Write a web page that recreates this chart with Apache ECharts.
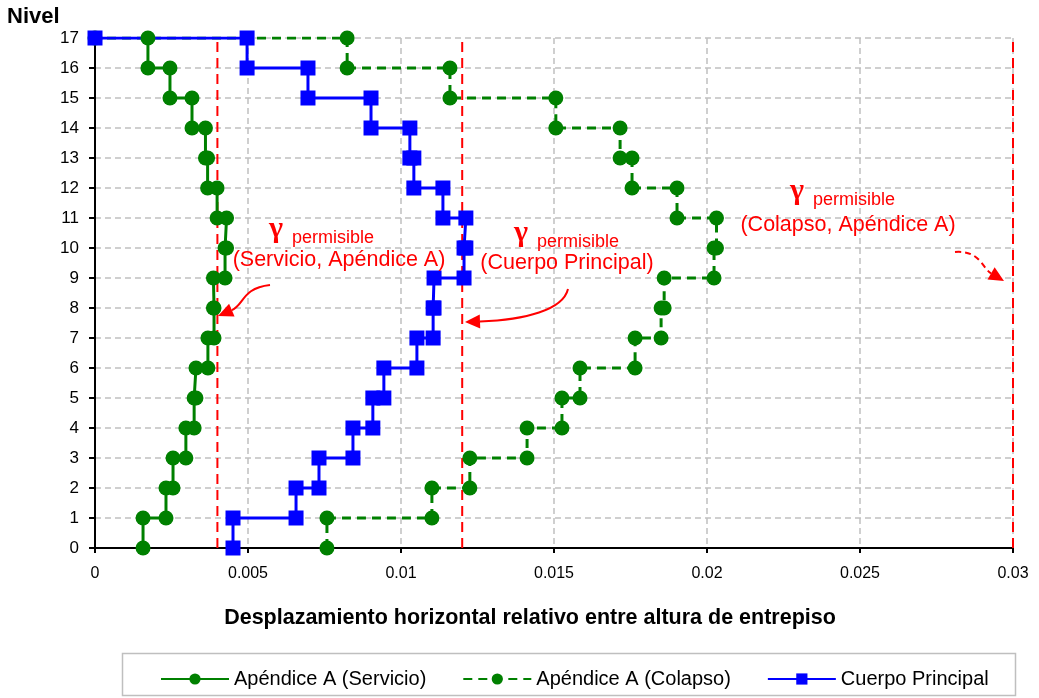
<!DOCTYPE html>
<html>
<head>
<meta charset="utf-8">
<script src="https://cdn.jsdelivr.net/npm/echarts@6/dist/echarts.min.js"></script>
<style>
html,body{margin:0;padding:0;background:#fff;}
#chart{width:1039px;height:698px;}
</style>
</head>
<body>
<div id="chart"></div>
<script>
// ---- Data (story drift between level k-1 and level k, k = 1..17) ----
const levels = [0,1,2,3,4,5,6,7,8,9,10,11,12,13,14,15,16,17];
const xTicks = [0, 0.005, 0.01, 0.015, 0.02, 0.025, 0.03];
const servicioDrift = [0.00157,0.00232,0.00255,0.00297,0.00324,0.00330,0.00369,0.00389,0.00387,0.00425,0.00430,0.00399,0.00368,0.00361,0.00317,0.00245,0.00173];
const colapsoDrift  = [0.00758,0.01101,0.01225,0.01412,0.01526,0.01585,0.01765,0.01850,0.01860,0.02023,0.02031,0.01902,0.01755,0.01716,0.01506,0.01160,0.00824];
const cuerpoDrift   = [0.00451,0.00657,0.00732,0.00843,0.00908,0.00944,0.01052,0.01105,0.01108,0.01206,0.01212,0.01137,0.01042,0.01029,0.00902,0.00696,0.00497];
const roofDrift = 0;                       // roof point of the profiles
const limitValues = [0.004, 0.012, 0.03];  // γ permisible lines
const seriesNames = ['Apéndice A (Servicio)', 'Apéndice A (Colapso)', 'Cuerpo Principal'];

function stepPoints(drifts, withRoof) {
  const pts = [];
  drifts.forEach((d, i) => { pts.push([d, levels[i]]); pts.push([d, levels[i + 1]]); });
  if (withRoof) pts.push([roofDrift, levels[levels.length - 1]]);
  return pts;
}

const GREEN = '#008000', BLUE = '#0000FF', RED = '#FF0000';
const chart = echarts.init(document.getElementById('chart'), null, {renderer: 'canvas'});
const font = 'Liberation Sans, Arial';

function fmt(v) { return String(+v.toFixed(4)); }

const limitSeries = limitValues.map((v, i) => ({
  name: 'limit' + i, type: 'line', z: 1, silent: true,
  data: [[v, levels[0]], [v, levels[levels.length - 1]]],
  symbol: 'none',
  lineStyle: {color: RED, width: 2, type: [10, 6]}
}));

const option = {
  animation: false,
  backgroundColor: '#fff',
  grid: {left: 95, right: 26, top: 38, bottom: 150, containLabel: false},
  xAxis: {
    type: 'value', min: xTicks[0], max: xTicks[xTicks.length - 1], interval: 0.005,
    axisLine: {show: true, onZero: false, lineStyle: {color: '#000', width: 2}},
    axisTick: {show: true, inside: false, length: 5, lineStyle: {color: '#000', width: 2}},
    axisLabel: {color: '#000', fontSize: 16, fontFamily: font, margin: 18, formatter: fmt},
    splitLine: {show: true, lineStyle: {color: '#c0c0c0', width: 1.5, type: [6, 4]}}
  },
  yAxis: {
    type: 'value', min: 0, max: 17, interval: 1,
    axisLine: {show: true, onZero: false, lineStyle: {color: '#000', width: 2}},
    axisTick: {show: true, inside: false, length: 6, lineStyle: {color: '#000', width: 2}},
    axisLabel: {color: '#000', fontSize: 17, fontFamily: font, margin: 16},
    splitLine: {show: true, lineStyle: {color: '#c0c0c0', width: 1.5, type: [6, 4]}}
  },
  legend: {
    data: seriesNames,
    left: 155, top: 664,
    itemWidth: 68, itemHeight: 14, itemGap: 36,
    textStyle: {fontSize: 20, color: '#000', fontFamily: font},
    selectedMode: false
  },
  series: [
    ...limitSeries,
    {
      name: seriesNames[1], type: 'line', z: 2,
      data: stepPoints(colapsoDrift, true),
      symbol: 'circle', symbolSize: 15, showAllSymbol: true,
      lineStyle: {color: GREEN, width: 3, type: [9, 6]},
      itemStyle: {color: GREEN}
    },
    {
      name: seriesNames[2], type: 'line', z: 3,
      data: stepPoints(cuerpoDrift, true),
      symbol: 'rect', symbolSize: 15, showAllSymbol: true,
      lineStyle: {color: BLUE, width: 3},
      itemStyle: {color: BLUE}
    },
    {
      name: seriesNames[0], type: 'line', z: 4,
      data: stepPoints(servicioDrift, false),
      symbol: 'circle', symbolSize: 15, showAllSymbol: true,
      lineStyle: {color: GREEN, width: 3},
      itemStyle: {color: GREEN}
    }
  ]
};
chart.setOption(option);

// ---- Annotations ----
function gammaLabel(gx, gy, line2, cx2, cy2) {
  return [
    {type: 'text', x: gx, y: gy - 5, silent: true, z: 10,
     style: {text: 'γ', fill: RED, fontSize: 30, fontWeight: 'bold', fontFamily: 'Liberation Serif', align: 'center', verticalAlign: 'middle'}},
    {type: 'text', x: gx + 16, y: gy + 4, silent: true, z: 10,
     style: {text: 'permisible', fill: RED, fontSize: 18, fontFamily: font, align: 'left', verticalAlign: 'middle'}},
    {type: 'text', x: cx2, y: cy2, silent: true, z: 10,
     style: {text: line2, fill: RED, fontSize: 21.5, fontFamily: font, align: 'center', verticalAlign: 'middle'}}
  ];
}
function arrow(p0, c1, c2, tip, dashed) {
  const ang = Math.atan2(tip[1] - c2[1], tip[0] - c2[0]);
  const L = 15, W = 7;
  const bx = tip[0] - L * Math.cos(ang), by = tip[1] - L * Math.sin(ang);
  const nx = -Math.sin(ang), ny = Math.cos(ang);
  return [
    {type: 'bezierCurve', silent: true, z: 10,
     shape: {x1: p0[0], y1: p0[1], cpx1: c1[0], cpy1: c1[1], cpx2: c2[0], cpy2: c2[1], x2: bx, y2: by},
     style: {fill: null, stroke: RED, lineWidth: 2, lineDash: dashed ? [6, 4] : null}},
    {type: 'polygon', silent: true, z: 10,
     shape: {points: [tip, [bx + nx * W, by + ny * W], [bx - nx * W, by - ny * W]]},
     style: {fill: RED}}
  ];
}

const g = [];
g.push({type: 'text', x: 7, y: 17, silent: true,
        style: {text: 'Nivel', fill: '#000', fontSize: 22, fontWeight: 'bold', fontFamily: font, verticalAlign: 'middle'}});
g.push({type: 'text', x: 530, y: 618, silent: true,
        style: {text: 'Desplazamiento horizontal relativo entre altura de entrepiso', fill: '#000',
                fontSize: 21.5, fontWeight: 'bold', fontFamily: font, align: 'center', verticalAlign: 'middle'}});
g.push({type: 'rect', silent: true, shape: {x: 122.5, y: 653.5, width: 893, height: 42},
        style: {fill: null, stroke: '#bfbfbf', lineWidth: 1.5}});
g.push(...gammaLabel(276, 234, '(Servicio, Apéndice A)', 339, 260));
g.push(...gammaLabel(521, 238, '(Cuerpo Principal)', 567, 263));
g.push(...gammaLabel(797, 196, '(Colapso, Apéndice A)', 848, 225));
g.push(...arrow([270, 285], [242, 288], [244, 305], [218, 316], false));
g.push(...arrow([568, 289], [563, 310], [525, 320], [465, 322], false));
g.push(...arrow([955, 252], [980, 250], [982, 268], [1004, 281], true));
chart.setOption({graphic: g});
</script>
</body>
</html>
